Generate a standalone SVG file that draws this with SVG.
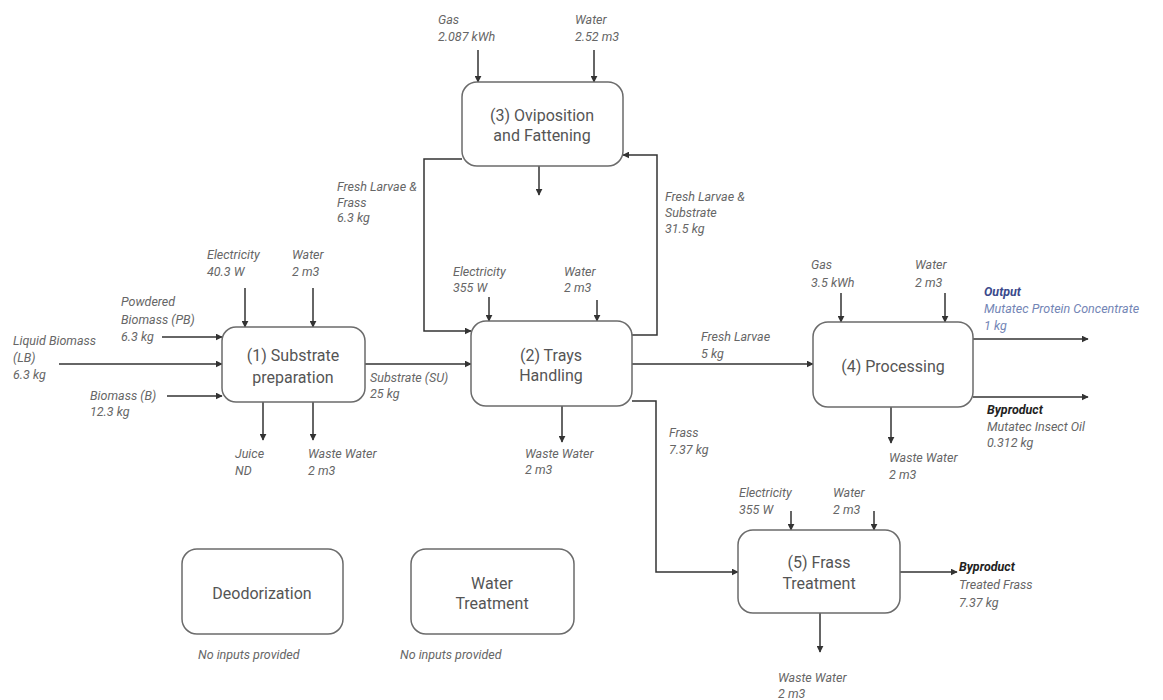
<svg xmlns="http://www.w3.org/2000/svg" width="1163" height="700" viewBox="0 0 1163 700">
<style>
.box{fill:#fff;stroke:#6b6b6b;stroke-width:1.5}
.nt{font-family:Roboto,"Liberation Sans",sans-serif;font-size:16px;fill:#555;text-anchor:middle}
.lb{font-family:Roboto,"Liberation Sans",sans-serif;font-size:12.5px;font-style:italic;fill:#666}
.out{fill:#3b4a8c;font-weight:bold}
.outv{fill:#7385b5}
.bp{fill:#222;font-weight:bold}
.ln{fill:none;stroke:#333;stroke-width:1.5}
</style>
<defs>
<marker id="ah" viewBox="0 0 10 10" refX="9" refY="5" markerWidth="7" markerHeight="7" markerUnits="userSpaceOnUse" orient="auto">
<path d="M0,0 L10,5 L0,10 z" fill="#333"/>
</marker>
</defs>
<rect width="1163" height="700" fill="#fff"/>

<g id="connectors">
<path class="ln" marker-end="url(#ah)" d="M478,50 V82"/>
<path class="ln" marker-end="url(#ah)" d="M594,50 V82"/>
<path class="ln" marker-end="url(#ah)" d="M539,166 V195"/>
<path class="ln" marker-end="url(#ah)" d="M462,159 H424 V331 H471"/>
<path class="ln" marker-end="url(#ah)" d="M632,335 H657 V155 H623"/>
<path class="ln" marker-end="url(#ah)" d="M245,288 V327"/>
<path class="ln" marker-end="url(#ah)" d="M313,288 V327"/>
<path class="ln" marker-end="url(#ah)" d="M162,337 H222"/>
<path class="ln" marker-end="url(#ah)" d="M59,364 H222"/>
<path class="ln" marker-end="url(#ah)" d="M167,396 H222"/>
<path class="ln" marker-end="url(#ah)" d="M263,402 V440"/>
<path class="ln" marker-end="url(#ah)" d="M313,402 V440"/>
<path class="ln" marker-end="url(#ah)" d="M365,364 H471"/>
<path class="ln" marker-end="url(#ah)" d="M489,297 V321"/>
<path class="ln" marker-end="url(#ah)" d="M597,300 V321"/>
<path class="ln" marker-end="url(#ah)" d="M562,406 V442"/>
<path class="ln" marker-end="url(#ah)" d="M632,364 H813"/>
<path class="ln" marker-end="url(#ah)" d="M632,401 H656 V572 H738"/>
<path class="ln" marker-end="url(#ah)" d="M841,293 V322"/>
<path class="ln" marker-end="url(#ah)" d="M945,293 V322"/>
<path class="ln" marker-end="url(#ah)" d="M891,407 V443"/>
<path class="ln" marker-end="url(#ah)" d="M973,339 H1088"/>
<path class="ln" marker-end="url(#ah)" d="M973,397 H1088"/>
<path class="ln" marker-end="url(#ah)" d="M791,511 V530"/>
<path class="ln" marker-end="url(#ah)" d="M874,511 V530"/>
<path class="ln" marker-end="url(#ah)" d="M900,572 H957"/>
<path class="ln" marker-end="url(#ah)" d="M820,613 V652"/>
</g>

<g id="node1">
<rect class="box" x="222" y="327" width="143" height="75" rx="14"/>
<text class="nt" x="293" y="361">(1) Substrate</text>
<text class="nt" x="293" y="383">preparation</text>
</g>
<g id="node2">
<rect class="box" x="471" y="321" width="161" height="85" rx="15"/>
<text class="nt" x="551" y="361">(2) Trays</text>
<text class="nt" x="551" y="381">Handling</text>
</g>
<g id="node3">
<rect class="box" x="462" y="82" width="161" height="84" rx="15"/>
<text class="nt" x="542" y="121">(3) Oviposition</text>
<text class="nt" x="542" y="141">and Fattening</text>
</g>
<g id="node4">
<rect class="box" x="813" y="322" width="160" height="85" rx="15"/>
<text class="nt" x="893" y="372">(4) Processing</text>
</g>
<g id="node5">
<rect class="box" x="738" y="530" width="162" height="83" rx="15"/>
<text class="nt" x="819" y="568">(5) Frass</text>
<text class="nt" x="819" y="589">Treatment</text>
</g>
<g id="node-deodorization">
<rect class="box" x="182" y="549" width="161" height="85" rx="15"/>
<text class="nt" x="262" y="599">Deodorization</text>
<text class="lb" x="198" y="659">No inputs provided</text>
</g>
<g id="node-water-treatment">
<rect class="box" x="411" y="549" width="163" height="85" rx="15"/>
<text class="nt" x="492" y="589">Water</text>
<text class="nt" x="492" y="609">Treatment</text>
<text class="lb" x="400" y="659">No inputs provided</text>
</g>

<g id="labels">
<text class="lb" x="438" y="24">Gas</text>
<text class="lb" x="438" y="41">2.087 kWh</text>
<text class="lb" x="575" y="24">Water</text>
<text class="lb" x="575" y="41">2.52 m3</text>
<text class="lb" x="337" y="191">Fresh Larvae &amp;</text>
<text class="lb" x="337" y="207">Frass</text>
<text class="lb" x="337" y="222">6.3 kg</text>
<text class="lb" x="665" y="201">Fresh Larvae &amp;</text>
<text class="lb" x="665" y="217">Substrate</text>
<text class="lb" x="665" y="233">31.5 kg</text>

<text class="lb" x="207" y="259">Electricity</text>
<text class="lb" x="207" y="276">40.3 W</text>
<text class="lb" x="292" y="259">Water</text>
<text class="lb" x="292" y="276">2 m3</text>
<text class="lb" x="121" y="306">Powdered</text>
<text class="lb" x="121" y="324">Biomass (PB)</text>
<text class="lb" x="121" y="341">6.3 kg</text>
<text class="lb" x="13" y="345">Liquid Biomass</text>
<text class="lb" x="13" y="362">(LB)</text>
<text class="lb" x="13" y="379">6.3 kg</text>
<text class="lb" x="90" y="400">Biomass (B)</text>
<text class="lb" x="90" y="416">12.3 kg</text>
<text class="lb" x="235" y="458">Juice</text>
<text class="lb" x="235" y="475">ND</text>
<text class="lb" x="308" y="458">Waste Water</text>
<text class="lb" x="308" y="475">2 m3</text>
<text class="lb" x="370" y="382">Substrate (SU)</text>
<text class="lb" x="370" y="398">25 kg</text>

<text class="lb" x="453" y="276">Electricity</text>
<text class="lb" x="453" y="292">355 W</text>
<text class="lb" x="564" y="276">Water</text>
<text class="lb" x="564" y="292">2 m3</text>
<text class="lb" x="525" y="458">Waste Water</text>
<text class="lb" x="525" y="474">2 m3</text>
<text class="lb" x="701" y="341">Fresh Larvae</text>
<text class="lb" x="701" y="358">5 kg</text>
<text class="lb" x="669" y="437">Frass</text>
<text class="lb" x="669" y="454">7.37 kg</text>

<text class="lb" x="811" y="269">Gas</text>
<text class="lb" x="811" y="287">3.5 kWh</text>
<text class="lb" x="915" y="269">Water</text>
<text class="lb" x="915" y="287">2 m3</text>
<text class="lb out" x="984" y="296">Output</text>
<text class="lb outv" x="984" y="313">Mutatec Protein Concentrate</text>
<text class="lb outv" x="984" y="330">1 kg</text>
<text class="lb bp" x="987" y="414">Byproduct</text>
<text class="lb" x="987" y="431">Mutatec Insect Oil</text>
<text class="lb" x="987" y="447">0.312 kg</text>
<text class="lb" x="889" y="462">Waste Water</text>
<text class="lb" x="889" y="479">2 m3</text>

<text class="lb" x="739" y="497">Electricity</text>
<text class="lb" x="739" y="514">355 W</text>
<text class="lb" x="833" y="497">Water</text>
<text class="lb" x="833" y="514">2 m3</text>
<text class="lb bp" x="959" y="571">Byproduct</text>
<text class="lb" x="959" y="589">Treated Frass</text>
<text class="lb" x="959" y="607">7.37 kg</text>
<text class="lb" x="778" y="682">Waste Water</text>
<text class="lb" x="778" y="698">2 m3</text>
</g>
</svg>
